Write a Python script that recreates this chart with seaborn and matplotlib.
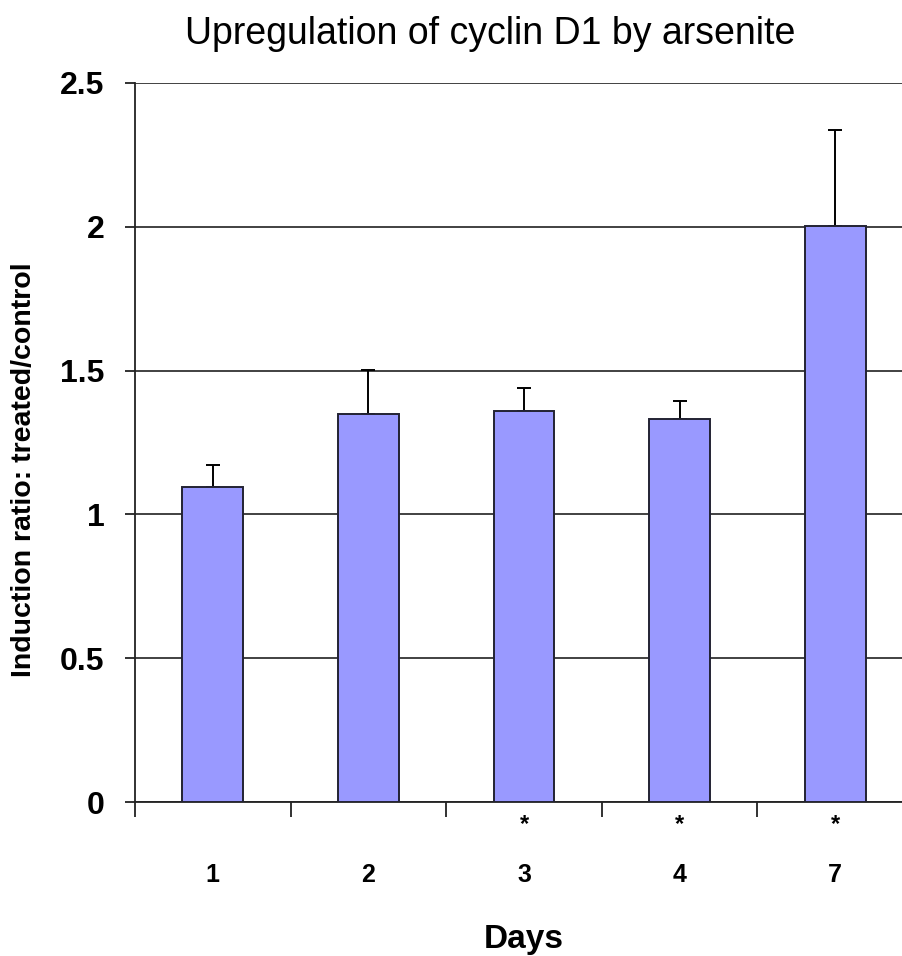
import numpy as np
import pandas as pd
import matplotlib
matplotlib.use("Agg")
import matplotlib.pyplot as plt
import seaborn as sns

# ---- data ----
days = ["1", "2", "3", "4", "7"]
ratio = [1.094, 1.349, 1.360, 1.331, 2.004]
err_up = [0.077, 0.153, 0.080, 0.062, 0.334]
signif = ["", "", "*", "*", "*"]
yticks = [0, 0.5, 1, 1.5, 2, 2.5]
ytick_labels = ["0", "0.5", "1", "1.5", "2", "2.5"]
title = "Upregulation of cyclin D1 by arsenite"
xlabel = "Days"
ylabel = "Induction ratio: treated/control"

sns.set_theme(style="white")
plt.rcParams["font.family"] = ["Liberation Sans", "DejaVu Sans"]

W, H = 903, 956
fig = plt.figure(figsize=(W / 100, H / 100), dpi=100)
ax = fig.add_axes([135 / W, 1 - 802 / H, 778 / W, (802 - 83) / H])

df = pd.DataFrame({"Days": days, "ratio": ratio})
sns.barplot(data=df, x="Days", y="ratio", order=days, color="#9999FF",
            saturation=1, width=0.39, edgecolor="#222233", linewidth=1.4,
            errorbar=None, ax=ax, zorder=3)

x = np.arange(len(days))
ax.errorbar(x, ratio, yerr=[np.zeros(len(days)), err_up], fmt="none",
            ecolor="black", elinewidth=1.4, capsize=4.8, capthick=1.4, zorder=2)

ax.set_xlim(-0.5, len(days) - 0.5)
ax.set_ylim(0, 2.5)

# grid
ax.yaxis.grid(True, color="#333333", linewidth=1.3)
ax.set_axisbelow(True)

for s in ["top", "right"]:
    ax.spines[s].set_visible(False)
for s in ["left", "bottom"]:
    ax.spines[s].set_color("#222222")
    ax.spines[s].set_linewidth(1.3)

# y ticks
ax.set_yticks(yticks, ytick_labels)
ax.tick_params(axis="y", direction="out", length=7, width=1.3, color="#222222",
               pad=15, labelsize=23, left=True)
for t in ax.get_yticklabels():
    t.set_fontweight("bold")
    t.set_color("black")

# x ticks: labels centered under bars, tick marks at category boundaries
ax.set_xticks(x, days)
ax.set_xticks(np.arange(len(days) + 1) - 0.5, minor=True)
ax.tick_params(axis="x", which="major", length=0, pad=44, labelsize=18, bottom=True)
ax.tick_params(axis="x", which="minor", direction="out", length=11, width=1.3,
               color="#222222", bottom=True)
for t in ax.get_xticklabels():
    t.set_fontweight("bold")
    t.set_color("black")

# significance stars
for i, s in enumerate(signif):
    if s:
        ax.annotate(s, xy=(i, 0), xycoords="data", xytext=(0, -16),
                    textcoords="offset points", ha="center", va="center",
                    fontsize=17, fontweight="bold", color="black")

ax.set_xlabel("")
ax.set_ylabel("")

fig.text(490 / W, 1 - 34 / H, title, ha="center", va="center", fontsize=27,
         color="black")
fig.text(524 / W, 1 - 948 / H, xlabel, ha="center", va="baseline", fontsize=24,
         fontweight="bold", color="black")
fig.text(24 / W, 1 - 470 / H, ylabel, ha="center", va="center", rotation=90,
         fontsize=20.5, fontweight="bold", color="black",
         family=["Liberation Sans Narrow", "Liberation Sans", "DejaVu Sans"])

fig.savefig("out.png", dpi=100)
